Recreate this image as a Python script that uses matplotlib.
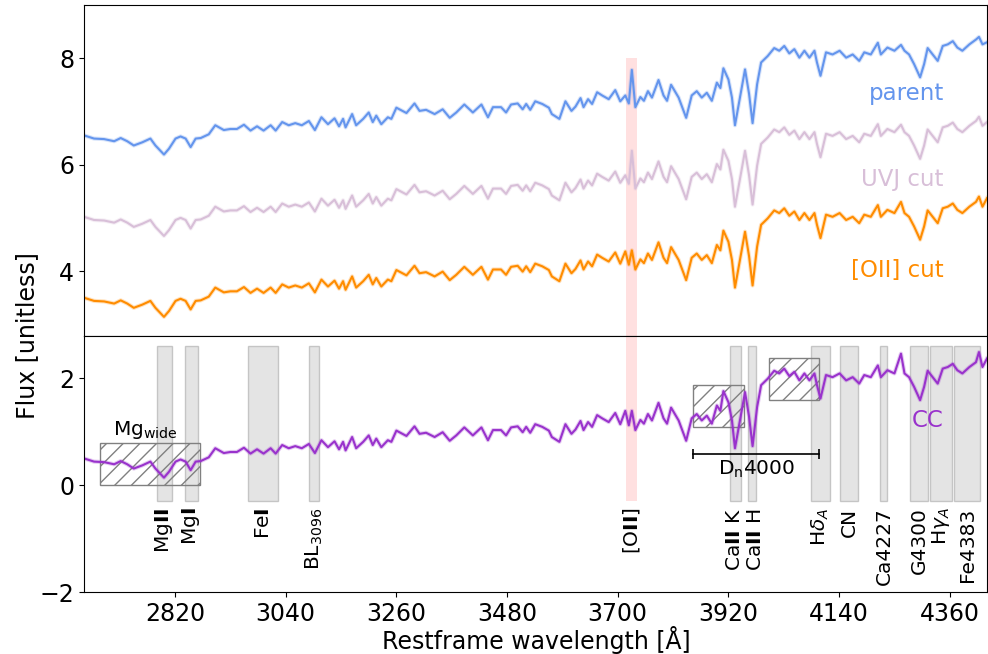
import numpy as np
import matplotlib.pyplot as plt
from matplotlib.patches import Rectangle

# restframe wavelength grid [A]
wave = [2639, 2659, 2679, 2699, 2712, 2725, 2738, 2755, 2771, 2781,
        2798, 2808, 2821, 2831, 2841, 2851, 2861, 2871, 2887, 2900,
        2917, 2930, 2943, 2957, 2970, 2983, 2996, 3010, 3020, 3033,
        3046, 3059, 3072, 3086, 3098, 3111, 3124, 3137, 3146, 3154,
        3159, 3172, 3180, 3194, 3205, 3213, 3220, 3230, 3243, 3250,
        3260, 3280, 3296, 3306, 3319, 3336, 3352, 3366, 3379, 3395,
        3412, 3429, 3442, 3452, 3468, 3478, 3488, 3501, 3511, 3518,
        3526, 3536, 3550, 3563, 3569, 3584, 3596, 3608, 3616, 3626,
        3632, 3641, 3649, 3659, 3669, 3682, 3695, 3705, 3715, 3722,
        3728, 3735, 3745, 3752, 3760, 3768, 3781, 3791, 3798, 3806,
        3821, 3836, 3847, 3857, 3867, 3877, 3887, 3897, 3904, 3910,
        3920, 3927, 3933, 3943, 3953, 3961, 3968, 3977, 3985, 3998,
        4011, 4021, 4031, 4041, 4051, 4061, 4071, 4081, 4091, 4096,
        4103, 4114, 4127, 4141, 4154, 4167, 4180, 4190, 4203, 4217,
        4223, 4236, 4250, 4263, 4270, 4279, 4289, 4301, 4309, 4316,
        4326, 4336, 4346, 4356, 4366, 4375, 4385, 4399, 4412, 4418,
        4425, 4434]

# stacked spectra (top panel, already offset as plotted)
flux_parent = [6.55, 6.49, 6.48, 6.44, 6.50, 6.44, 6.36, 6.42, 6.49, 6.36,
               6.19, 6.30, 6.49, 6.53, 6.49, 6.33, 6.49, 6.50, 6.57, 6.74,
               6.65, 6.67, 6.67, 6.75, 6.64, 6.72, 6.64, 6.74, 6.64, 6.80,
               6.74, 6.78, 6.74, 6.82, 6.65, 6.89, 6.76, 6.87, 6.72, 6.86,
               6.70, 6.95, 6.74, 6.86, 6.98, 6.80, 6.92, 6.76, 6.89, 6.86,
               7.07, 6.97, 7.15, 7.01, 7.03, 6.95, 7.04, 6.88, 6.98, 7.13,
               6.98, 7.13, 6.89, 7.08, 7.08, 6.98, 7.13, 7.15, 7.04, 7.14,
               7.03, 7.19, 7.14, 7.07, 6.95, 6.86, 7.19, 7.01, 7.09, 7.25,
               7.08, 7.23, 7.14, 7.36, 7.30, 7.23, 7.40, 7.19, 7.30, 7.15,
               7.78, 7.08, 7.27, 7.20, 7.38, 7.26, 7.59, 7.30, 7.20, 7.50,
               7.26, 6.88, 7.30, 7.38, 7.26, 7.35, 7.20, 7.54, 7.44, 7.81,
               7.60, 7.26, 6.74, 7.26, 7.79, 7.33, 6.78, 7.51, 7.92, 8.04,
               8.19, 8.14, 8.23, 8.09, 8.17, 8.01, 8.14, 8.01, 8.14, 7.92,
               7.67, 8.11, 8.07, 8.14, 8.01, 8.07, 7.95, 8.11, 8.07, 8.29,
               8.07, 8.20, 8.14, 8.25, 8.14, 8.07, 7.89, 7.64, 7.89, 8.19,
               8.07, 7.95, 8.23, 8.26, 8.32, 8.20, 8.14, 8.26, 8.35, 8.40,
               8.26, 8.30]

flux_uvj = [5.02, 4.96, 4.95, 4.91, 4.97, 4.91, 4.83, 4.89, 4.96, 4.83,
            4.66, 4.77, 4.96, 5.00, 4.96, 4.80, 4.96, 4.97, 5.04, 5.21,
            5.12, 5.14, 5.14, 5.22, 5.11, 5.19, 5.11, 5.21, 5.11, 5.27,
            5.21, 5.25, 5.21, 5.29, 5.12, 5.36, 5.23, 5.34, 5.19, 5.33,
            5.17, 5.42, 5.21, 5.33, 5.45, 5.27, 5.39, 5.23, 5.36, 5.33,
            5.54, 5.44, 5.62, 5.48, 5.50, 5.42, 5.51, 5.35, 5.45, 5.60,
            5.45, 5.60, 5.36, 5.55, 5.55, 5.45, 5.60, 5.62, 5.51, 5.61,
            5.50, 5.66, 5.61, 5.54, 5.42, 5.33, 5.66, 5.48, 5.56, 5.72,
            5.55, 5.70, 5.61, 5.83, 5.77, 5.70, 5.87, 5.66, 5.80, 5.64,
            6.26, 5.55, 5.74, 5.67, 5.85, 5.73, 6.06, 5.77, 5.67, 5.97,
            5.73, 5.35, 5.77, 5.85, 5.73, 5.82, 5.67, 6.01, 5.91, 6.28,
            6.07, 5.73, 5.21, 5.73, 6.26, 5.80, 5.25, 5.98, 6.39, 6.51,
            6.66, 6.61, 6.70, 6.56, 6.64, 6.48, 6.61, 6.48, 6.61, 6.39,
            6.14, 6.58, 6.54, 6.61, 6.48, 6.54, 6.42, 6.58, 6.54, 6.76,
            6.54, 6.67, 6.61, 6.75, 6.61, 6.54, 6.36, 6.11, 6.36, 6.66,
            6.54, 6.42, 6.70, 6.73, 6.79, 6.67, 6.61, 6.73, 6.82, 6.90,
            6.73, 6.80]

flux_oii = [3.50, 3.44, 3.43, 3.39, 3.45, 3.39, 3.31, 3.37, 3.44, 3.31,
            3.14, 3.25, 3.44, 3.48, 3.44, 3.28, 3.44, 3.45, 3.52, 3.69,
            3.60, 3.62, 3.62, 3.70, 3.59, 3.67, 3.59, 3.69, 3.59, 3.75,
            3.69, 3.73, 3.69, 3.77, 3.60, 3.84, 3.71, 3.82, 3.67, 3.81,
            3.65, 3.90, 3.69, 3.81, 3.93, 3.75, 3.87, 3.71, 3.84, 3.81,
            4.02, 3.92, 4.10, 3.96, 3.98, 3.90, 3.99, 3.83, 3.93, 4.08,
            3.93, 4.08, 3.84, 4.03, 4.03, 3.93, 4.08, 4.10, 3.99, 4.09,
            3.98, 4.14, 4.09, 4.02, 3.90, 3.81, 4.14, 3.96, 4.04, 4.20,
            4.03, 4.18, 4.09, 4.31, 4.25, 4.18, 4.35, 4.14, 4.37, 4.12,
            4.39, 4.03, 4.22, 4.15, 4.33, 4.21, 4.54, 4.25, 4.15, 4.45,
            4.21, 3.83, 4.25, 4.33, 4.21, 4.30, 4.15, 4.49, 4.39, 4.76,
            4.55, 4.21, 3.69, 4.21, 4.74, 4.28, 3.73, 4.46, 4.87, 4.99,
            5.14, 5.09, 5.18, 5.04, 5.12, 4.96, 5.09, 4.96, 5.09, 4.87,
            4.62, 5.06, 5.02, 5.09, 4.96, 5.02, 4.90, 5.06, 5.02, 5.24,
            5.02, 5.15, 5.09, 5.30, 5.09, 5.02, 4.84, 4.59, 4.84, 5.14,
            5.02, 4.90, 5.18, 5.21, 5.27, 5.15, 5.09, 5.21, 5.30, 5.40,
            5.21, 5.37]

# CC spectrum (bottom panel)
flux_cc = [0.50, 0.44, 0.43, 0.39, 0.45, 0.39, 0.31, 0.37, 0.44, 0.31,
           0.14, 0.25, 0.44, 0.48, 0.44, 0.28, 0.44, 0.45, 0.52, 0.69,
           0.60, 0.62, 0.62, 0.70, 0.59, 0.67, 0.59, 0.69, 0.59, 0.75,
           0.69, 0.73, 0.69, 0.77, 0.60, 0.84, 0.71, 0.82, 0.67, 0.81,
           0.65, 0.90, 0.69, 0.81, 0.93, 0.75, 0.87, 0.71, 0.84, 0.81,
           1.02, 0.92, 1.10, 0.96, 0.98, 0.90, 0.99, 0.83, 0.93, 1.08,
           0.93, 1.08, 0.84, 1.03, 1.03, 0.93, 1.08, 1.10, 0.99, 1.09,
           0.98, 1.14, 1.09, 1.02, 0.90, 0.81, 1.14, 0.96, 1.04, 1.20,
           1.03, 1.18, 1.09, 1.31, 1.25, 1.18, 1.35, 1.14, 1.39, 1.12,
           1.39, 1.03, 1.22, 1.15, 1.33, 1.21, 1.54, 1.25, 1.15, 1.45,
           1.21, 0.83, 1.25, 1.33, 1.21, 1.30, 1.15, 1.49, 1.39, 1.76,
           1.55, 1.21, 0.69, 1.21, 1.74, 1.28, 0.73, 1.46, 1.87, 1.99,
           2.14, 2.09, 2.18, 2.04, 2.12, 1.96, 2.09, 1.96, 2.09, 1.87,
           1.62, 2.06, 2.02, 2.09, 1.96, 2.02, 1.90, 2.06, 2.02, 2.24,
           2.02, 2.15, 2.09, 2.46, 2.09, 2.02, 1.84, 1.59, 1.84, 2.14,
           2.02, 1.90, 2.18, 2.21, 2.27, 2.15, 2.09, 2.21, 2.30, 2.49,
           2.21, 2.37]

top_names = ['parent', 'UVJ cut', '[OII] cut']
top_label_y = [7.21, 5.60, 3.89]

# spectral index bands [A]
index_names = ['Mg$\\mathbf{II}$', 'Mg$\\mathbf{I}$', 'Fe$\\mathbf{I}$', 'BL$_{3096}$',
               'Ca$\\mathbf{II}$ K', 'Ca$\\mathbf{II}$ H', 'H$\\delta_A$', 'CN',
               'Ca4227', 'G4300', 'H$\\gamma_A$', 'Fe4383']
index_lo = [2784, 2839, 2965, 3086, 3924, 3958, 4083.5, 4142, 4222.25, 4281.4, 4319.75, 4369.1]
index_hi = [2814, 2865, 3025, 3106, 3944, 3975, 4122.25, 4177, 4234.75, 4316.4, 4363.5, 4420.4]
index_label_x = [2799, 2852, 2995, 3096, 3933, 3974, 4103, 4160, 4229, 4299, 4342, 4395]
oii_band = [3716, 3738]

# continuum windows: (lo, hi, ymin, ymax)
mgwide_box = [2670, 2870, 0.0, 0.78]
dn_blue_box = [3850, 3950, 1.09, 1.88]
dn_red_box = [4000, 4100, 1.59, 2.38]

colors = ['cornflowerblue', 'thistle', 'darkorange']
cc_color = 'darkorchid'

plt.rcParams['font.size'] = 17

fig = plt.figure(figsize=(9.88, 6.54), dpi=100)
ax1 = fig.add_axes([0.085, 0.4862, 0.914, 0.5062])
ax2 = fig.add_axes([0.085, 0.0948, 0.914, 0.3914])

# top panel
for flux, c, name, ly in zip([flux_parent, flux_uvj, flux_oii], colors, top_names, top_label_y):
    ax1.plot(wave, flux, color=c, lw=3, alpha=0.25)
    ax1.plot(wave, flux, color=c, lw=1.5)
    ax1.text(4348, ly, name, color=c, ha='right', va='baseline', fontsize=16.5)
ax1.add_patch(Rectangle((oii_band[0], -0.3), oii_band[1] - oii_band[0], 8.3,
                        color='red', alpha=0.12, lw=0, zorder=0))
ax1.set_xlim(2639, 4434)
ax1.set_ylim(2.78, 9.0)
ax1.set_yticks([4, 6, 8])
ax1.tick_params(bottom=False, labelbottom=False)

# bottom panel
for lo, hi, name, lx in zip(index_lo, index_hi, index_names, index_label_x):
    ax2.add_patch(Rectangle((lo, -0.3), hi - lo, 2.9, facecolor='lightgray',
                            edgecolor='darkgray', alpha=0.6, lw=1, zorder=0))
    ax2.text(lx, -0.42, name, rotation=90, ha='center', va='top', fontsize=14.5)
ax2.add_patch(Rectangle((oii_band[0], -0.3), oii_band[1] - oii_band[0], 8.3,
                        color='red', alpha=0.12, lw=0, zorder=0))
ax2.text(sum(oii_band) / 2, -0.42, '[O$\\mathbf{II}$]', rotation=90, ha='center',
         va='top', fontsize=14.5)

for box in [mgwide_box, dn_blue_box, dn_red_box]:
    ax2.add_patch(Rectangle((box[0], box[2]), box[1] - box[0], box[3] - box[2],
                            facecolor='none', edgecolor='gray', hatch='//', lw=1, zorder=1))
ax2.text((mgwide_box[0] + mgwide_box[1]) / 2 - 10, 0.83, 'Mg$_{\\rm wide}$',
         ha='center', va='bottom', fontsize=14.5)

ax2.plot([dn_blue_box[0], dn_red_box[1]], [0.58, 0.58], color='k', lw=1.2)
ax2.vlines([dn_blue_box[0], dn_red_box[1]], 0.48, 0.68, color='k', lw=1.2)
ax2.text((dn_blue_box[0] + dn_red_box[1]) / 2, 0.5, 'D$_\\mathrm{n}$4000',
         ha='center', va='top', fontsize=14.5)

ax2.plot(wave, flux_cc, color=cc_color, lw=3, alpha=0.25, zorder=2)
ax2.plot(wave, flux_cc, color=cc_color, lw=1.5, zorder=2)
ax2.text(4348, 1.08, 'CC', color=cc_color, ha='right', va='baseline', fontsize=16.5)

ax2.set_xlim(2639, 4434)
ax2.set_ylim(-2, 2.79)
ax2.set_yticks([-2, 0, 2])
ax2.set_xticks(np.arange(2820, 4434, 220))

fig.text(0.027, 1 - 336 / 654, 'Flux [unitless]', rotation=90, ha='center', va='center')
fig.text(0.5425, 0.022, 'Restframe wavelength [Å]', ha='center', va='center')

fig.savefig('out.png', dpi=100)
